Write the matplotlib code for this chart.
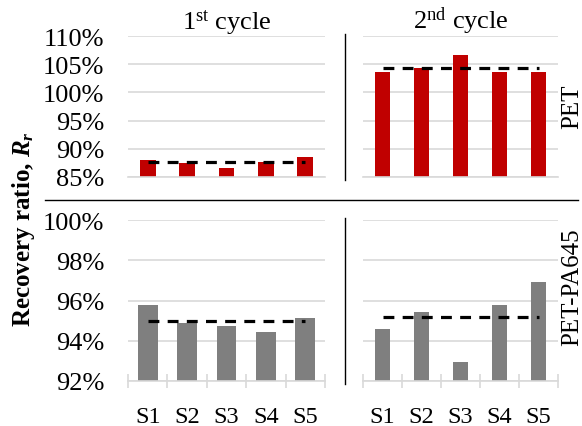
import matplotlib
matplotlib.use("Agg")
import matplotlib.pyplot as plt
from matplotlib.lines import Line2D
from matplotlib.ticker import FixedLocator, FuncFormatter

plt.rcParams["font.family"] = ["Liberation Serif", "DejaVu Serif"]
plt.rcParams["mathtext.fontset"] = "custom"
plt.rcParams["mathtext.rm"] = "Liberation Serif"
plt.rcParams["mathtext.it"] = "Liberation Serif:italic"
plt.rcParams["mathtext.bf"] = "Liberation Serif:bold"
plt.rcParams["mathtext.bfit"] = "Liberation Serif:bold:italic"

samples = ["S1", "S2", "S3", "S4", "S5"]
cycles = ["1$^{\\mathrm{st}}$ cycle", "2$^{\\mathrm{nd}}$ cycle"]
materials = ["PET", "PET-PA645"]

# recovery ratio in percent, per cycle
pet_cycle1 = [88.0, 87.4, 86.6, 87.6, 88.5]
pet_cycle2 = [103.6, 104.3, 106.6, 103.6, 103.7]
pa_cycle1 = [95.77, 94.89, 94.74, 94.45, 95.13]
pa_cycle2 = [94.6, 95.42, 92.96, 95.78, 96.91]

pet_avg = [87.6, 104.4]
pa_avg = [95.0, 95.17]

pet_ticks = [85, 90, 95, 100, 105, 110]
pa_ticks = [92, 94, 96, 98, 100]

RED = "#C00000"
GREY = "#7F7F7F"
GRID = "#D9D9D9"

fig = plt.figure(figsize=(5.82, 4.27), dpi=100)

W = 582.0
H = 427.0


def add_ax(x0, x1, ytop, ybot):
    return fig.add_axes([x0 / W, 1 - ybot / H, (x1 - x0) / W, (ybot - ytop) / H])


axes = [
    [add_ax(128, 325, 37, 178), add_ax(363, 558, 37, 178)],
    [add_ax(128, 325, 221, 382), add_ax(363, 558, 221, 382)],
]

rows = [
    (materials[0], [pet_cycle1, pet_cycle2], pet_avg, pet_ticks, RED, [0.4, 0.4]),
    (materials[1], [pa_cycle1, pa_cycle2], pa_avg, pa_ticks, GREY, [0.5, 0.4]),
]

x = list(range(1, len(samples) + 1))

for r, (name, series, avgs, ticks, color, widths) in enumerate(rows):
    for c in range(2):
        ax = axes[r][c]
        ax.bar(x, series[c], width=widths[c], color=color, zorder=2)
        ax.plot(x, [avgs[c]] * len(x), color="black", lw=2.3,
                dashes=(3.4, 2.6), zorder=3, solid_capstyle="butt")
        ax.set_xlim(0.5, 5.5)
        ax.yaxis.set_major_locator(FixedLocator(ticks))
        ax.yaxis.set_major_formatter(FuncFormatter(lambda v, p: f"{v:.0f}%"))
        ax.grid(axis="y", color=GRID, lw=1.2, zorder=0)
        ax.set_axisbelow(True)
        for s in ["top", "right", "left"]:
            ax.spines[s].set_visible(False)
        ax.spines["bottom"].set_color(GRID)
        ax.spines["bottom"].set_linewidth(1.2)
        ax.tick_params(axis="y", length=0, pad=17, labelsize=19)
        if c == 1:
            ax.tick_params(axis="y", labelleft=False)
        if r == 0:
            ax.set_xticks([])
            ax.set_title(cycles[c], fontsize=19, pad=4)
        else:
            ax.set_xticks(x)
            ax.set_xticklabels(samples)
            ax.xaxis.set_minor_locator(FixedLocator([0.5, 1.5, 2.5, 3.5, 4.5, 5.5]))
            ax.tick_params(axis="x", which="major", length=0, pad=18, labelsize=17.5)
            ax.tick_params(axis="x", which="minor", direction="inout", length=10,
                           width=1.2, color=GRID)
        ax.set_ylim(ticks[0], ticks[-1])

# panel separators
fig.add_artist(Line2D([345 / W, 345 / W], [1 - 35 / H, 1 - 181 / H],
                      color="black", lw=1.0))
fig.add_artist(Line2D([345 / W, 345 / W], [1 - 219 / H, 1 - 385 / H],
                      color="black", lw=1.0))
fig.add_artist(Line2D([45 / W, 578 / W], [1 - 200.5 / H, 1 - 200.5 / H],
                      color="black", lw=1.0))

# row labels on the right
fig.text(572 / W, 1 - 107 / H, materials[0], rotation=90, ha="center",
         va="center", fontsize=18)
fig.text(572 / W, 1 - 287 / H, materials[1], rotation=90, ha="center",
         va="center", fontsize=18)

fig.text(24 / W, 1 - 229 / H, "Recovery ratio, $\\mathbfit{R}_{\\mathbfit{r}}$",
         rotation=90, ha="center", va="center", fontsize=18, fontweight="bold")

fig.savefig("out.png", dpi=100)
